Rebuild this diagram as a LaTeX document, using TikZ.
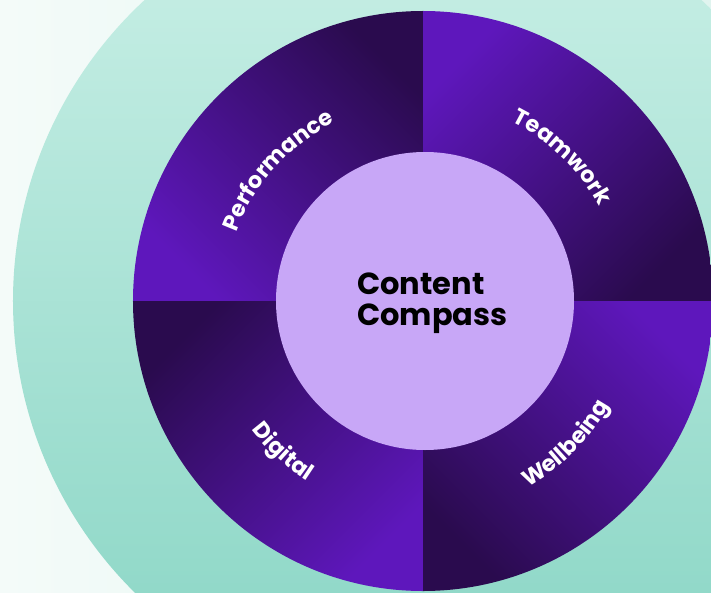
\documentclass[tikz,border=0pt]{standalone}
\usepackage{fontspec}
\newfontfamily\pop{Poppins}
\usetikzlibrary{decorations.text}
\definecolor{pbright}{HTML}{5E17BC}
\definecolor{pdark}{HTML}{2A0B4E}
\definecolor{lav}{HTML}{C8A7F7}
\definecolor{tealtop}{HTML}{CBF0E7}
\definecolor{tealbot}{HTML}{88D5C4}
\definecolor{bgl}{HTML}{F4FBF9}
\definecolor{bgr}{HTML}{E0F4EF}
\begin{document}
\begin{tikzpicture}[
  labeltext/.style={decorate, decoration={text along path, text align=center,
    text={|\pop\bfseries\fontsize{22.5}{26}\selectfont\color{white}|#1}}},
  quad/.style={shading angle=#1},
]
\useasboundingbox (-423pt,-291pt) rectangle (288pt,301pt);
\clip (-423pt,-291pt) rectangle (288pt,301pt);
\shade[left color=bgl, right color=bgr] (-423pt,-291pt) rectangle (288pt,301pt);
\shade[top color=tealtop, bottom color=tealbot] (0,0) circle[radius=410pt];
% quadrants
\shade[top color=pdark, bottom color=pbright, quad=-45] (0,0) -- (90:290pt) arc[start angle=90,end angle=180,radius=290pt] -- cycle;
\shade[top color=pbright, bottom color=pdark, quad=45] (0,0) -- (0:290pt) arc[start angle=0,end angle=90,radius=290pt] -- cycle;
\shade[top color=pdark, bottom color=pbright, quad=45] (0,0) -- (180:290pt) arc[start angle=180,end angle=270,radius=290pt] -- cycle;
\shade[top color=pbright, bottom color=pdark, quad=-45] (0,0) -- (270:290pt) arc[start angle=270,end angle=360,radius=290pt] -- cycle;
% inner circle
\fill[lav] (2pt,0) circle[radius=149pt];
\node[anchor=north west, inner sep=0pt, align=left, font=\pop\bfseries\fontsize{30.5}{31}\selectfont] (title) at (-66pt,28pt) {Content\\Compass};
% labels
\path[labeltext=Performance] (188:199pt) arc[start angle=188, end angle=88, radius=199pt];
\path[labeltext=Teamwork] (96:200pt) arc[start angle=96, end angle=-4, radius=200pt];
\path[labeltext=Wellbeing] (-95:214pt) arc[start angle=-95, end angle=5, radius=214pt];
\path[labeltext=Digital] (-183:214pt) arc[start angle=-183, end angle=-83, radius=214pt];
\end{tikzpicture}
\end{document}
